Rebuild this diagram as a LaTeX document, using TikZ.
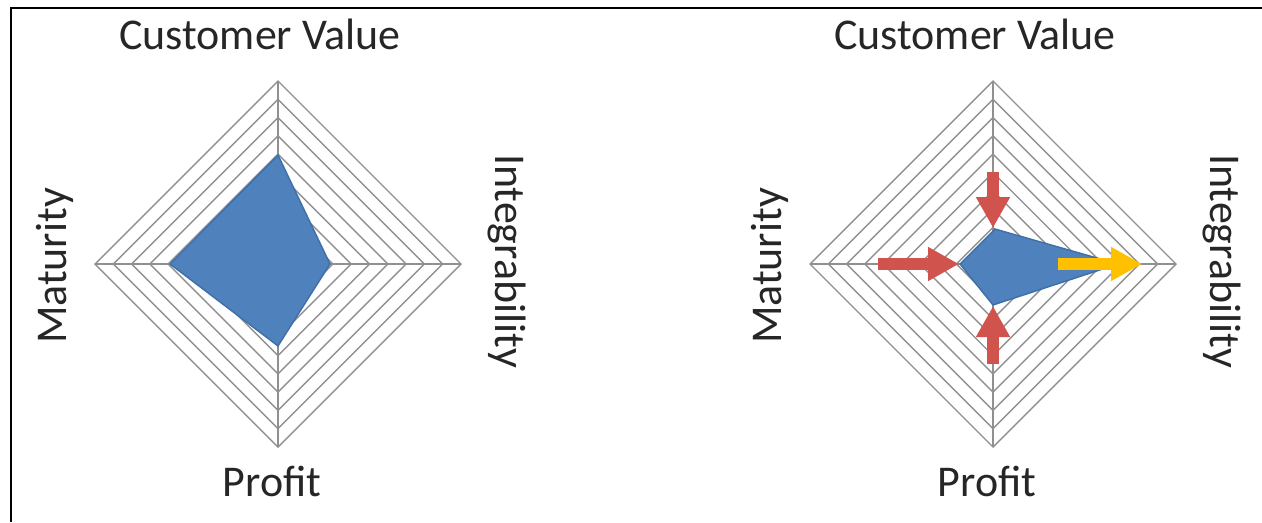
\documentclass[tikz,border=0pt]{standalone}
\usepackage{fontspec}
\setmainfont{Carlito}
\usetikzlibrary{arrows.meta}
\definecolor{webline}{HTML}{909090}
\definecolor{areablue}{HTML}{4F81BD}
\definecolor{areaedge}{HTML}{3F6FA8}
\definecolor{pushred}{HTML}{D0534E}
\definecolor{pullgold}{HTML}{FFC000}
\tikzset{
  gridline/.style={webline, line width=0.8pt},
  axislabel/.style={font=\fontsize{25}{30}\selectfont, text=black!85, inner sep=0pt},
  bigarrow/.style={line width=6.8pt, -{Triangle[length=0.62cm,width=0.64cm]}},
}
\begin{document}
\begin{tikzpicture}[x=0.02cm,y=-0.02cm]
  \useasboundingbox (0,0) rectangle (1262,522);
  % frame, only top and left edge show
  \draw[line width=1.2pt] (1262,8) -- (11,8) -- (11,522);

  % the two webs with their labels
  \foreach \cx/\nm in {278/L,993/R}{
    \foreach \r in {1,...,10}
      \draw[gridline] ({\cx-18.3*\r},264) -- (\cx,{264-18.3*\r})
        -- ({\cx+18.3*\r},264) -- (\cx,{264+18.3*\r}) -- cycle;
    \draw[gridline] (\cx-183,264) -- (\cx+183,264);
    \draw[gridline] (\cx,81) -- (\cx,447);
    \node[axislabel] (cv\nm) at (\cx-18,34) {Customer Value};
    \node[axislabel] (pr\nm) at (\cx-6,481) {Profit};
    \node[axislabel, rotate=90] (ma\nm) at (\cx-223,266) {Maturity};
    \node[axislabel, rotate=-90] (in\nm) at (\cx+229,261) {Integrability};
  }

  % today
  \filldraw[fill=areablue, draw=areaedge, line width=0.8pt]
    (278,155) -- (330,264) -- (278,346) -- (170,264) -- cycle;
  % tomorrow
  \filldraw[fill=areablue, draw=areaedge, line width=0.8pt]
    (995,229) -- (1118,264) -- (993,305) -- (960,264) -- cycle;

  \coordinate (downtail) at (993,172);
  \coordinate (downtip) at (993,228);
  \coordinate (righttail) at (878,264);
  \coordinate (righttip) at (959,264);
  \coordinate (uptail) at (993,364);
  \coordinate (uptip) at (993,306);
  \coordinate (goldtail) at (1058,264);
  \coordinate (goldtip) at (1142,264);
  \draw[bigarrow, pushred] (downtail) -- (downtip);
  \draw[bigarrow, pushred] (righttail) -- (righttip);
  \draw[bigarrow, pushred] (uptail) -- (uptip);
  \draw[bigarrow, pullgold] (goldtail) -- (goldtip);
\end{tikzpicture}
\end{document}
